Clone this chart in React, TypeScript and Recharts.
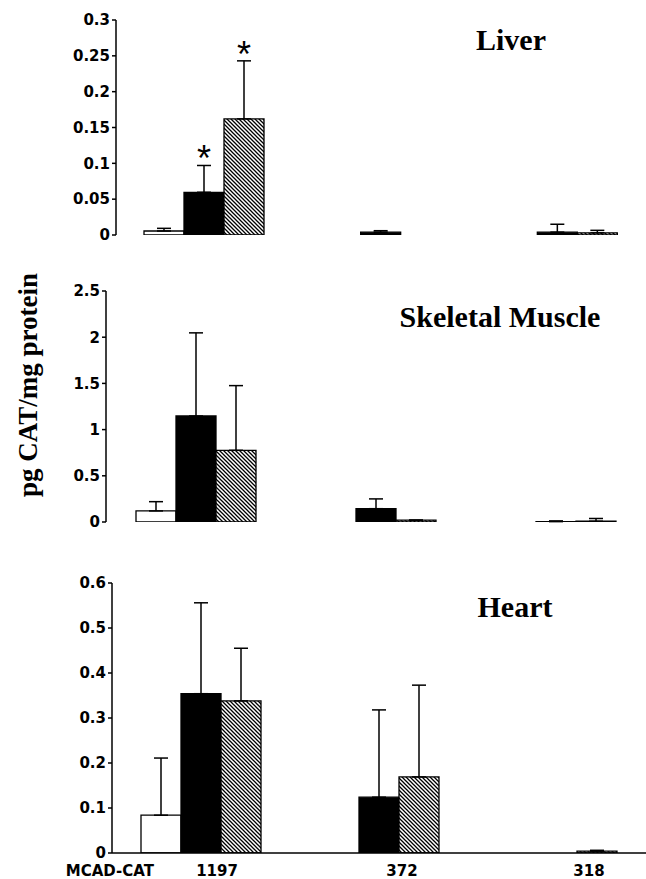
import React from 'react';
import { BarChart, Bar, XAxis, YAxis, ErrorBar, LabelList } from 'recharts';

// MCAD-CAT construct groups
const groups = ['1197', '372', '318'];

// Liver
const liverOpen = [0.0056, 0, 0];
const liverOpenErr = [0.0037, 0, 0];
const liverSolid = [0.0596, 0.004, 0.004];
const liverSolidErr = [0.0374, 0.002, 0.011];
const liverHatch = [0.162, 0, 0.003];
const liverHatchErr = [0.081, 0, 0.0035];
const liverSolidStar = [true, false, false];
const liverHatchStar = [true, false, false];
const liverTicks = [0, 0.05, 0.1, 0.15, 0.2, 0.25, 0.3];

// Skeletal muscle
const muscleOpen = [0.12, 0, 0];
const muscleOpenErr = [0.1, 0, 0];
const muscleSolid = [1.147, 0.144, 0.004];
const muscleSolidErr = [0.9, 0.106, 0.008];
const muscleHatch = [0.776, 0.02, 0.008];
const muscleHatchErr = [0.7, 0, 0.03];
const muscleTicks = [0, 0.5, 1, 1.5, 2, 2.5];

// Heart
const heartOpen = [0.084, 0, 0];
const heartOpenErr = [0.127, 0, 0];
const heartSolid = [0.354, 0.124, 0];
const heartSolidErr = [0.202, 0.194, 0];
const heartHatch = [0.338, 0.169, 0.004];
const heartHatchErr = [0.117, 0.204, 0.002];
const heartTicks = [0, 0.1, 0.2, 0.3, 0.4, 0.5, 0.6];

const makeRows = (
  open: number[], openErr: number[],
  solid: number[], solidErr: number[],
  hatch: number[], hatchErr: number[],
) =>
  groups.map((g, i) => ({
    group: g,
    open: open[i],
    openErr: [0, openErr[i]],
    solid: solid[i],
    solidErr: [0, solidErr[i]],
    hatch: hatch[i],
    hatchErr: [0, hatchErr[i]],
  }));

const liverRows = makeRows(liverOpen, liverOpenErr, liverSolid, liverSolidErr, liverHatch, liverHatchErr);
const muscleRows = makeRows(muscleOpen, muscleOpenErr, muscleSolid, muscleSolidErr, muscleHatch, muscleHatchErr);
const heartRows = makeRows(heartOpen, heartOpenErr, heartSolid, heartSolidErr, heartHatch, heartHatchErr);

const tickFont = { fill: '#000', fontSize: 15, fontWeight: 700, fontFamily: 'DejaVu Sans' };

// asterisk placed above the error bar of flagged bars
const starContent = (vals: number[], errs: number[], flags: boolean[]) => (props: any) => {
  const i = props.index;
  if (!flags[i] || !vals[i]) return null;
  const x = Number(props.x), y = Number(props.y);
  const w = Number(props.width), h = Number(props.height);
  const errTop = y - (errs[i] * h) / vals[i];
  return (
    <text x={x + w / 2} y={errTop + 6} textAnchor="middle" fontSize={36} fontFamily="Liberation Sans" fill="#000">
      *
    </text>
  );
};

const labelShift = [16, 23, 32];

const GroupTick = (props: any) => {
  const { x, y, payload, index } = props;
  return (
    <g>
      {index === 0 && (
        <text x={x - 47} y={y} dy="0.72em" textAnchor="end" fontSize={15} fontWeight={700} fontFamily="DejaVu Sans" fill="#000">
          MCAD-CAT
        </text>
      )}
      <text x={x + labelShift[index]} y={y} dy="0.72em" textAnchor="middle" fontSize={15} fontWeight={700} fontFamily="DejaVu Sans" fill="#000">
        {payload.value}
      </text>
    </g>
  );
};

type PanelProps = {
  rows: any[];
  ticks: number[];
  top: number;
  height: number;
  yWidth: number;
  labels?: boolean;
  stars?: { solid: boolean[]; hatch: boolean[]; solidVals: number[]; solidErrs: number[]; hatchVals: number[]; hatchErrs: number[] };
};

const Panel = (p: PanelProps) => {
  const max = p.ticks[p.ticks.length - 1];
  return (
    <div style={{ position: 'absolute', left: 0, top: p.top }}>
      <BarChart
        width={646}
        height={p.height}
        data={p.rows}
        barSize={40}
        barGap={0}
        margin={{ top: 20, right: 0, left: 0, bottom: p.labels ? 0 : 15 }}
      >
        <XAxis
          dataKey="group"
          axisLine={{ stroke: '#000', strokeWidth: 1.5 }}
          tickLine={false}
          tickSize={0}
          tickMargin={12}
          height={p.labels ? 26 : 0}
          tick={p.labels ? <GroupTick /> : false}
          interval={0}
        />
        <YAxis
          width={p.yWidth}
          domain={[0, max]}
          ticks={p.ticks}
          allowDataOverflow
          axisLine={{ stroke: '#000', strokeWidth: 1.5 }}
          tickLine={{ stroke: '#000', strokeWidth: 1.5 }}
          tickSize={4}
          tickMargin={2}
          tick={tickFont}
        />
        <Bar dataKey="open" fill="#fff" stroke="#000" strokeWidth={1.3} isAnimationActive={false}>
          <ErrorBar dataKey="openErr" width={7} stroke="#000" strokeWidth={1.5} direction="y" />
        </Bar>
        <Bar dataKey="solid" fill="#000" stroke="#000" strokeWidth={1.3} isAnimationActive={false}>
          <ErrorBar dataKey="solidErr" width={7} stroke="#000" strokeWidth={1.5} direction="y" />
          {p.stars && (
            <LabelList dataKey="solid" content={starContent(p.stars.solidVals, p.stars.solidErrs, p.stars.solid)} />
          )}
        </Bar>
        <Bar dataKey="hatch" fill="url(#hatch)" stroke="#000" strokeWidth={1.3} isAnimationActive={false}>
          <ErrorBar dataKey="hatchErr" width={7} stroke="#000" strokeWidth={1.5} direction="y" />
          {p.stars && (
            <LabelList dataKey="hatch" content={starContent(p.stars.hatchVals, p.stars.hatchErrs, p.stars.hatch)} />
          )}
        </Bar>
      </BarChart>
    </div>
  );
};

const titleStyle = { fontFamily: 'Liberation Serif', fontWeight: 700, fontSize: 30 };

export default function App() {
  return (
    <div style={{ position: 'absolute', left: 0, top: 0, width: 646, height: 879, background: '#fff' }}>
      <svg width={0} height={0} style={{ position: 'absolute' }}>
        <defs>
          <pattern id="hatch" patternUnits="userSpaceOnUse" width={4} height={4}>
            <rect width={4} height={4} fill="#fff" />
            <path d="M-1,-1 L5,5 M3,-1 L5,1 M-1,3 L1,5" stroke="#000" strokeWidth={1.3} />
          </pattern>
        </defs>
      </svg>

      <Panel
        rows={liverRows}
        ticks={liverTicks}
        top={0}
        height={250}
        yWidth={116}
        stars={{
          solid: liverSolidStar,
          hatch: liverHatchStar,
          solidVals: liverSolid,
          solidErrs: liverSolidErr,
          hatchVals: liverHatch,
          hatchErrs: liverHatchErr,
        }}
      />
      <Panel rows={muscleRows} ticks={muscleTicks} top={271} height={266} yWidth={106} />
      <Panel rows={heartRows} ticks={heartTicks} top={563} height={316} yWidth={112} labels />

      <svg width={646} height={879} style={{ position: 'absolute', left: 0, top: 0, pointerEvents: 'none' }}>
        <text x={511} y={50} textAnchor="middle" {...titleStyle}>Liver</text>
        <text x={500} y={327} textAnchor="middle" {...titleStyle}>Skeletal Muscle</text>
        <text x={515} y={617} textAnchor="middle" {...titleStyle}>Heart</text>
        <text
          x={0}
          y={0}
          transform="translate(37,385) rotate(-90)"
          textAnchor="middle"
          fontFamily="Liberation Serif"
          fontWeight={700}
          fontSize={27}
        >
          pg CAT/mg protein
        </text>
      </svg>
    </div>
  );
}
